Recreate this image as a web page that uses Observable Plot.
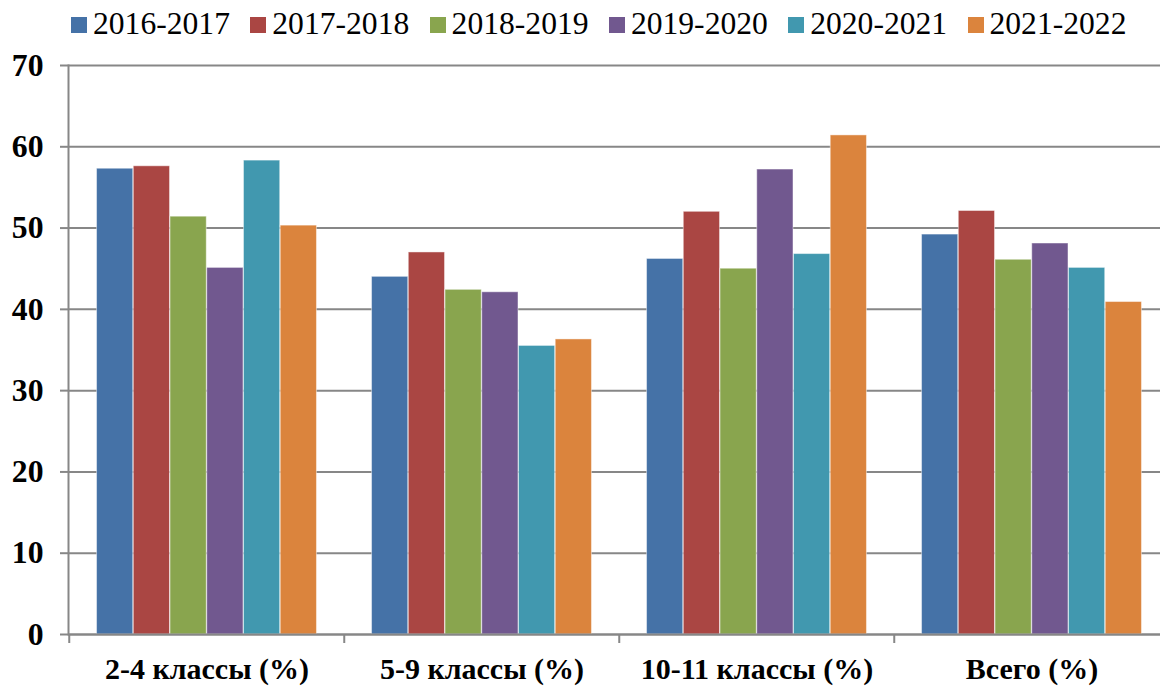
<!DOCTYPE html>
<html><head><meta charset="utf-8">
<script src="https://cdn.jsdelivr.net/npm/d3@7"></script>
<script src="https://cdn.jsdelivr.net/npm/@observablehq/plot@0.6"></script>
<style>
body{margin:0;background:#fff;}
#wrap{width:1160px;height:687px;overflow:hidden;position:relative;background:#fff;}
#legend{height:44px;position:relative;color:#000;white-space:nowrap;}
#chart{width:1170px;}
#chart svg{max-width:none !important;}
.item{position:absolute;top:0;height:44px;}
.sw{position:absolute;left:0;top:17px;width:16px;height:16px;}
.tx{position:absolute;left:22px;top:0;line-height:1;}
</style></head><body><div id="wrap"><div id="legend"></div><div id="chart"></div></div>
<script>
const categories = ["2-4 классы (%)", "5-9 классы (%)", "10-11 классы (%)", "Всего (%)"];
const series = ["2016-2017", "2017-2018", "2018-2019", "2019-2020", "2020-2021", "2021-2022"];
const colors = ["#4572A7", "#AA4643", "#89A54E", "#71588F", "#4198AF", "#DB843D"];
const v2016_2017 = [57.3, 44.0, 46.2, 49.2];
const v2017_2018 = [57.6, 47.0, 52.0, 52.1];
const v2018_2019 = [51.4, 42.4, 45.0, 46.1];
const v2019_2020 = [45.1, 42.1, 57.2, 48.1];
const v2020_2021 = [58.3, 35.5, 46.8, 45.1];
const v2021_2022 = [50.3, 36.3, 61.4, 40.9];
const yTicks = [0, 10, 20, 30, 40, 50, 60, 70];

const values = [v2016_2017, v2017_2018, v2018_2019, v2019_2020, v2020_2021, v2021_2022];

const font = "'Liberation Serif', Tinos, 'Times New Roman', 'Nimbus Roman', FreeSerif, 'DejaVu Serif', 'Liberation Sans', serif";

// fit font sizes to the reference text widths
const ctx = document.createElement("canvas").getContext("2d");
function fit(text, weight, target, maxSize) {
  ctx.font = `${weight} 100px ${font}`;
  const w = ctx.measureText(text).width;
  return Math.min(maxSize, 100 * target / w);
}
const legendSize = fit("2016-2017", "normal", 137, 32);
const catSize = fit("2-4 классы (%)", "bold", 216, 30);
const ySize = fit("70", "bold", 31.7, 32);

// legend
const lg = document.getElementById("legend");
series.forEach((s, i) => {
  const it = document.createElement("div"); it.className = "item";
  it.style.left = (71 + i * 179.3) + "px";
  const sw = document.createElement("div"); sw.className = "sw"; sw.style.background = colors[i];
  const tx = document.createElement("div"); tx.className = "tx"; tx.textContent = s;
  tx.style.fontFamily = font; tx.style.fontSize = legendSize + "px";
  tx.style.top = (35.7 - 0.89 * legendSize) + "px";
  it.appendChild(sw); it.appendChild(tx); lg.appendChild(it);
});

const W = 1170, ML = 68, MR = 0;
const bw = (W - ML - MR) / categories.length;
const pad = bw * 0.1;
const barW = (bw - 2 * pad) / series.length;
const grey = "#878787";

const barMarks = series.map((s, i) => Plot.barY(
  categories.map((c, j) => ({category: c, value: values[i][j]})),
  {x: "category", y: "value", fill: colors[i],
   insetLeft: pad + i * barW, insetRight: bw - pad - (i + 1) * barW,
   stroke: "#ffffff", strokeOpacity: 0.45, strokeWidth: 1}
));

const chart = Plot.plot({
  width: W, height: 643,
  marginLeft: ML, marginRight: MR, marginTop: 21, marginBottom: 53,
  style: {fontFamily: font, background: "#fff", overflow: "visible", maxWidth: "none"},
  x: {type: "band", domain: categories, padding: 0},
  y: {domain: [0, 70]},
  marks: [
    Plot.gridY(yTicks, {stroke: grey, strokeOpacity: 1, strokeWidth: 2}),
    ...barMarks,
    Plot.ruleY([0], {stroke: grey, strokeWidth: 2}),
    Plot.frame({anchor: "left", stroke: grey, strokeWidth: 2}),
    Plot.axisY(yTicks, {tickSize: 8, tickPadding: 17, stroke: grey, strokeWidth: 2, fill: "#000",
      fontSize: ySize, fontWeight: "bold", fontFamily: font, label: null}),
    Plot.axisX({tickSize: 9, tickFormat: () => "", dx: -bw / 2, stroke: grey, strokeWidth: 2, label: null}),
    Plot.axisX({tickSize: 0, tickPadding: 678 - 634 - 0.71 * catSize, fill: "#000", fontSize: catSize,
      fontWeight: "bold", fontFamily: font, label: null})
  ]
});
document.getElementById("chart").appendChild(chart);
</script>
</body></html>
